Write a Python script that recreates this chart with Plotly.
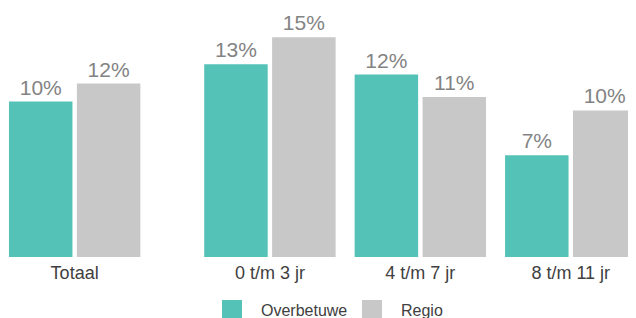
import plotly.graph_objects as go

categories = ["Totaal", "0 t/m 3 jr", "4 t/m 7 jr", "8 t/m 11 jr"]
series_names = ["Overbetuwe", "Regio"]
overbetuwe = [10.4, 12.9, 12.2, 6.8]
regio = [11.6, 14.7, 10.7, 9.8]
overbetuwe_labels = ["10%", "13%", "12%", "7%"]
regio_labels = ["12%", "15%", "11%", "10%"]

# layout: group positions (extra gap after the "Totaal" group)
group_pos = [0, 1.298, 2.298, 3.298]

TEAL = "#54C2B7"
GREY = "#C8C8C8"
FONT = "Liberation Sans, Arial, sans-serif"

# the page body has an 8px margin; figure is sized to fit the viewport
W, H = 628, 310
ML, MR, MT, MB = 0, 0, 2, 61
PW, PH = W - ML - MR, H - MT - MB

fig = go.Figure()
for vals, labels, color, off in [
    (overbetuwe, overbetuwe_labels, TEAL, -0.4365),
    (regio, regio_labels, GREY, 0.015),
]:
    fig.add_trace(go.Bar(
        x=group_pos, y=vals,
        marker=dict(color=color, line=dict(width=0)),
        width=0.422, offset=off,
        text=labels, textposition="outside",
        textfont=dict(size=21, color="#838383", family=FONT),
        cliponaxis=False, hoverinfo="skip", showlegend=False,
    ))

# manual legend (20px squares)
def px2paper(fx, fy):
    return (fx - ML) / PW, (H - MB - fy) / PH

legend_items = [(series_names[0], TEAL, 214), (series_names[1], GREY, 354)]
shapes, annotations = [], []
for name, color, sx in legend_items:
    x0, y0 = px2paper(sx, 292)
    x1, y1 = px2paper(sx + 20, 312)
    shapes.append(dict(type="rect", xref="paper", yref="paper",
                       x0=x0, x1=x1, y0=y1, y1=y0,
                       fillcolor=color, line=dict(width=0)))
    tx, ty = px2paper(sx + 37, 302)
    annotations.append(dict(xref="paper", yref="paper", x=tx, y=ty,
                            xanchor="left", yanchor="middle", showarrow=False,
                            text=name, font=dict(size=16, color="#404040", family=FONT)))

fig.update_layout(
    width=W, height=H,
    margin=dict(l=ML, r=MR, t=MT, b=MB),
    paper_bgcolor="white", plot_bgcolor="white",
    barmode="overlay",
    font=dict(family=FONT, color="#404040"),
    showlegend=False,
    shapes=shapes, annotations=annotations,
    xaxis=dict(
        range=[-0.443, 3.732], tickmode="array", tickvals=group_pos,
        ticktext=categories, showgrid=False, zeroline=False, showline=False,
        ticks="", ticklabelstandoff=3,
        tickfont=dict(size=18, color="#404040", family=FONT),
    ),
    yaxis=dict(range=[0, PH / 14.95], visible=False),
)

fig.write_html("out.html")
